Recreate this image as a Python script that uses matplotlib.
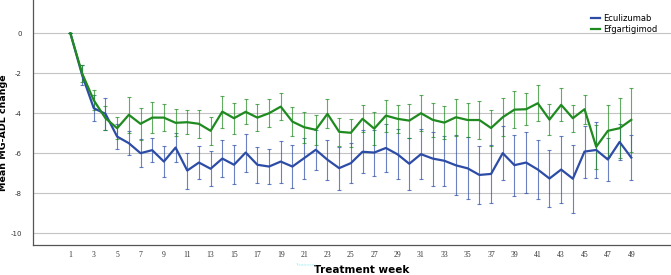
import numpy as np
import matplotlib
matplotlib.use('Agg')
import matplotlib.pyplot as plt

plt.rcParams['axes.unicode_minus'] = False

# semanas de tratamento
weeks = np.arange(1, 50)

# Eculizumab: media e erro
ecu_mean = [0, -2.08, -3.75, -4.03, -5.17, -5.5, -6.0, -5.85, -6.42, -5.72,
            -6.87, -6.47, -6.78, -6.27, -6.58, -5.97, -6.58, -6.67, -6.42, -6.67,
            -6.25, -5.83, -6.33, -6.75, -6.5, -5.93, -5.97, -5.74, -6.06, -6.53,
            -6.05, -6.27, -6.38, -6.61, -6.76, -7.09, -7.04, -6.0, -6.6, -6.47,
            -6.82, -7.27, -6.82, -7.28, -5.92, -5.84, -6.32, -5.44, -6.22]
ecu_err = [0, 0.5, 0.64, 0.8, 0.64, 0.6, 0.7, 0.6, 0.78, 0.73,
           0.9, 0.83, 0.87, 0.92, 0.98, 0.95, 0.9, 0.87, 1.05, 1.07,
           1.02, 1.0, 1.0, 1.08, 1.0, 1.08, 1.15, 1.2, 1.25, 1.3,
           1.25, 1.35, 1.25, 1.5, 1.55, 1.45, 1.47, 1.35, 1.52, 1.52,
           1.5, 1.44, 1.66, 1.7, 1.3, 1.38, 1.08, 0.9, 1.12]

# Efgartigimod: media e erro
efg_mean = [0, -2.0, -3.35, -4.25, -4.75, -4.08, -4.53, -4.22, -4.22, -4.48,
            -4.45, -4.53, -4.88, -3.92, -4.25, -3.93, -4.22, -4.0, -3.67, -4.42,
            -4.7, -4.83, -4.03, -4.93, -4.98, -4.28, -4.77, -4.12, -4.28, -4.37,
            -4.0, -4.33, -4.47, -4.2, -4.34, -4.34, -4.74, -4.2, -3.82, -3.8,
            -3.5, -4.32, -3.58, -4.25, -3.8, -5.68, -4.88, -4.75, -4.33]
efg_err = [0, 0.42, 0.5, 0.6, 0.54, 0.9, 0.8, 0.78, 0.68, 0.67,
           0.6, 0.7, 0.7, 0.8, 0.78, 0.63, 0.67, 0.7, 0.67, 0.74,
           0.77, 0.75, 0.72, 0.7, 0.7, 0.67, 0.83, 0.8, 0.7, 0.85,
           0.9, 0.85, 0.83, 0.92, 0.87, 0.94, 0.9, 0.95, 0.93, 0.8,
           0.9, 0.78, 0.82, 0.67, 0.73, 1.1, 1.3, 1.5, 1.6]

xticks = np.arange(1, 50, 2)
yticks = [0, -2, -4, -6, -8, -10]

blue = '#2c4ca6'
green = '#1f8a1f'

fig = plt.figure(figsize=(6.71, 2.75), dpi=100)
ax = fig.add_axes([0.0492, 0.109, 0.9508, 0.891])

ax.errorbar(weeks, ecu_mean, yerr=ecu_err, fmt='none', ecolor=blue,
            elinewidth=0.8, capsize=1.5, capthick=0.8, alpha=0.7, zorder=2)
ax.errorbar(weeks, efg_mean, yerr=efg_err, fmt='none', ecolor=green,
            elinewidth=0.8, capsize=1.5, capthick=0.8, alpha=0.7, zorder=2)
ax.plot(weeks, ecu_mean, color=blue, lw=1.6, label='Eculizumab', zorder=3)
ax.plot(weeks, efg_mean, color=green, lw=1.6, label='Efgartigimod', zorder=3)

ax.set_xlim(-2.2, 52.4)
ax.set_ylim(-10.6, 1.67)
ax.set_xticks(xticks)
ax.set_xticklabels([str(w) for w in xticks], fontsize=5.5, family='Liberation Serif')
ax.set_yticks(yticks)
ax.set_yticklabels([str(v) for v in yticks], fontsize=5)
ax.tick_params(axis='both', length=0, colors='#333333')
ax.tick_params(axis='x', pad=4)
ax.tick_params(axis='y', pad=8)

ax.grid(axis='y', color='#c4c4c4', lw=0.8)
ax.set_axisbelow(True)
for s in ['top', 'right']:
    ax.spines[s].set_visible(False)
for s in ['left', 'bottom']:
    ax.spines[s].set_color('#555555')
    ax.spines[s].set_linewidth(0.9)

ax.set_ylabel('Mean MG-ADL change', fontsize=6.8, fontweight='bold')
ax.yaxis.set_label_coords(-0.039, 0.46)
ax.set_xlabel('Treatment week', fontsize=7.5, fontweight='bold')
ax.xaxis.set_label_coords(0.515, -0.082)
fig.text(0.440, 0.036, 'Treatment', fontsize=3, color='#aef0f0', va='center')

leg = ax.legend(loc='upper right', bbox_to_anchor=(0.99, 0.975), frameon=False,
                fontsize=6, handlelength=1.0, handletextpad=0.4, labelspacing=0.3)

plt.savefig('out.png', dpi=100)
